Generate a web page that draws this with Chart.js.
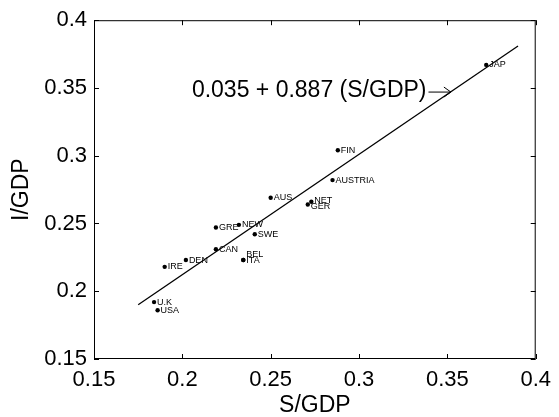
<!DOCTYPE html>
<html>
<head>
<meta charset="utf-8">
<script src="https://cdn.jsdelivr.net/npm/chart.js@4.4.0/dist/chart.umd.min.js"></script>
<style>
  html, body { margin: 0; padding: 0; background: #fff; }
</style>
</head>
<body>
<canvas id="grafico" width="559" height="417"></canvas>
<script>
// dados
const paises = ['JAP', 'FIN', 'AUSTRIA', 'AUS', 'NET', 'GER', 'GRE', 'NEW', 'SWE', 'CAN', 'DEN', 'BEL', 'ITA', 'IRE', 'U.K', 'USA'];
const sgdp = [0.372, 0.288, 0.285, 0.250, 0.273, 0.271, 0.219, 0.232, 0.241, 0.219, 0.202, 0.2345, 0.2345, 0.190, 0.184, 0.186];
const igdp = [0.367, 0.304, 0.282, 0.269, 0.266, 0.264, 0.247, 0.249, 0.242, 0.231, 0.223, 0.223, 0.223, 0.218, 0.192, 0.186];

// reta de regressao (extremos)
const retaX = [0.175, 0.39];
const retaY = [0.190, 0.381];

const valoresTick = [0.15, 0.2, 0.25, 0.3, 0.35, 0.4];
const equacao = '0.035 + 0.887 (S/GDP)';

const fonte = '"Liberation Sans", Arial, Helvetica, sans-serif';
// deslocamentos verticais dos rotulos que se sobrepoem (px)
const ajusteRotulo = { BEL: -6, GER: 2, NET: -1 };

const moldura = {
  id: 'moldura',
  afterDatasetsDraw(chart) {
    const { ctx, chartArea: a, scales: { x, y } } = chart;
    ctx.save();
    ctx.strokeStyle = '#000';
    ctx.lineWidth = 1;
    ctx.strokeRect(a.left + 0.5, a.top + 0.5, a.right - a.left - 1, a.bottom - a.top - 1);
    ctx.beginPath();
    valoresTick.forEach(v => {
      const px = Math.round(x.getPixelForValue(v)) + 0.5;
      ctx.moveTo(px, a.bottom); ctx.lineTo(px, a.bottom - 5);
      ctx.moveTo(px, a.top); ctx.lineTo(px, a.top + 5);
      const py = Math.round(y.getPixelForValue(v)) + 0.5;
      ctx.moveTo(a.left, py); ctx.lineTo(a.left + 5, py);
      ctx.moveTo(a.right, py); ctx.lineTo(a.right - 5, py);
    });
    ctx.stroke();

    // rotulos dos paises
    ctx.fillStyle = '#000';
    ctx.font = '9px ' + fonte;
    ctx.textAlign = 'left';
    ctx.textBaseline = 'middle';
    chart.getDatasetMeta(0).data.forEach((el, i) => {
      const nome = paises[i];
      ctx.fillText(nome, el.x + 3, el.y + (ajusteRotulo[nome] || 0));
    });

    // equacao com seta
    ctx.font = '23px ' + fonte;
    const ex = x.getPixelForValue(0.2054);
    const ey = y.getPixelForValue(0.3477);
    ctx.fillText(equacao, ex, ey);
    const fimTexto = ex + ctx.measureText(equacao).width + 2;
    const ponta = x.getPixelForValue(0.352);
    ctx.beginPath();
    ctx.lineWidth = 1;
    ctx.moveTo(fimTexto, ey + 1);
    ctx.lineTo(ponta, ey + 1);
    ctx.moveTo(ponta - 7, ey - 4);
    ctx.lineTo(ponta, ey + 1);
    ctx.lineTo(ponta - 7, ey + 6);
    ctx.stroke();
    ctx.restore();
  }
};

new Chart(document.getElementById('grafico'), {
  type: 'scatter',
  data: {
    datasets: [{
      label: 'paises',
      data: paises.map((p, i) => ({ x: sgdp[i], y: igdp[i] })),
      pointRadius: 2.2,
      pointBackgroundColor: '#000',
      pointBorderWidth: 0
    }, {
      label: 'reta',
      data: retaX.map((v, i) => ({ x: v, y: retaY[i] })),
      showLine: true,
      borderColor: '#000',
      borderWidth: 1.3,
      pointRadius: 0
    }]
  },
  options: {
    responsive: false,
    animation: false,
    layout: { padding: { top: 16, right: 18, left: 0, bottom: 0 } },
    plugins: { legend: { display: false }, tooltip: { enabled: false } },
    scales: {
      x: {
        min: 0.15, max: 0.4,
        afterBuildTicks: s => { s.ticks = valoresTick.map(v => ({ value: v })); },
        afterFit: s => { s.height = 58; },
        grid: { display: false, drawTicks: false },
        border: { display: false },
        ticks: { color: '#000', font: { family: fonte, size: 22 }, padding: 8, maxRotation: 0, callback: v => String(v) },
        title: { display: true, text: 'S/GDP', color: '#000', font: { family: fonte, size: 23, lineHeight: 1 }, padding: 0 }
      },
      y: {
        min: 0.15, max: 0.4,
        afterBuildTicks: s => { s.ticks = valoresTick.map(v => ({ value: v })); },
        afterFit: s => { s.width = 94; },
        grid: { display: false, drawTicks: false },
        border: { display: false },
        ticks: { color: '#000', font: { family: fonte, size: 22 }, padding: 7, callback: v => String(v) },
        title: { display: true, text: 'I/GDP', color: '#000', font: { family: fonte, size: 23, lineHeight: 1 }, padding: { top: 10, bottom: 0 } }
      }
    }
  },
  plugins: [moldura]
});
</script>
</body>
</html>
